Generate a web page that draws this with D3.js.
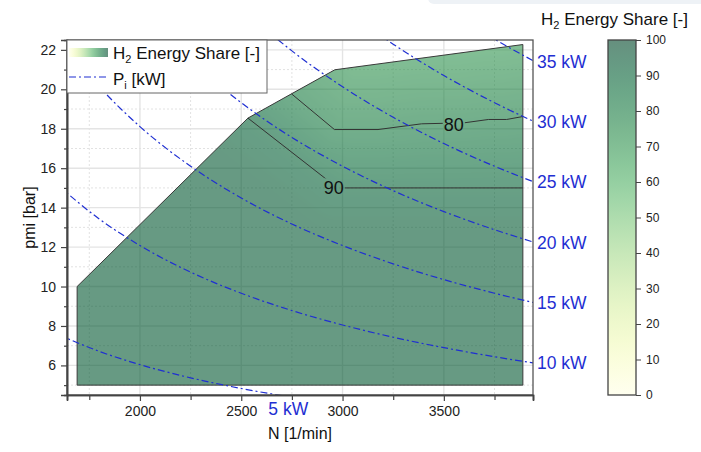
<!DOCTYPE html>
<html>
<head>
<meta charset="utf-8">
<script src="https://cdn.jsdelivr.net/npm/d3@7"></script>
<style>
  html, body { margin: 0; padding: 0; background: #fff; }
  svg { display: block; font-family: "Liberation Sans", Arial, sans-serif; }
</style>
</head>
<body>
<svg id="chart" width="701" height="452"></svg>
<script>
// ---------------- data ----------------
// operating-range envelope (N [1/min], pmi [bar])
const envelopeN   = [1690, 1690, 2533, 2748, 2962, 3890, 3890];
const envelopePmi = [5.0, 10.0, 18.54, 19.77, 20.99, 22.27, 5.0];

// iso-lines of H2 energy share
const contour90N   = [2533, 2975, 3890];
const contour90Pmi = [18.54, 15.0, 15.0];
const contour80N   = [2748, 2960, 3175, 3390, 3600, 3720, 3810, 3890];
const contour80Pmi = [19.77, 17.96, 17.96, 18.25, 18.30, 18.47, 18.47, 18.62];
const contourLabelText = ["90", "80"];
const contourLabelN    = [2957, 3549];
const contourLabelPmi  = [14.98, 18.2];

// indicated-power lines Pi [kW]
const piPowers = [5, 10, 15, 20, 25, 30, 35];
const piN = [1600, 1800, 2000, 2250, 2500, 2750, 3000, 3250, 3500, 3750, 3950];
const piPmi5  = [7.55, 6.71, 6.04, 5.37, 4.83, 4.39, 4.03, 3.72, 3.45, 3.22, 3.06];
const piPmi10 = [15.09, 13.42, 12.08, 10.73, 9.66, 8.78, 8.05, 7.43, 6.90, 6.44, 6.11];
const piPmi15 = [22.64, 20.13, 18.11, 16.10, 14.49, 13.17, 12.08, 11.15, 10.35, 9.66, 9.17];
const piPmi20 = [30.19, 26.83, 24.15, 21.47, 19.32, 17.56, 16.10, 14.86, 13.80, 12.88, 12.23];
const piPmi25 = [37.73, 33.54, 30.19, 26.83, 24.15, 21.95, 20.13, 18.58, 17.25, 16.10, 15.28];
const piPmi30 = [45.28, 40.25, 36.23, 32.20, 28.98, 26.35, 24.15, 22.29, 20.70, 19.32, 18.34];
const piPmi35 = [52.83, 46.96, 42.26, 37.57, 33.81, 30.74, 28.18, 26.01, 24.15, 22.54, 21.40];
const piSeries = [piPmi5, piPmi10, piPmi15, piPmi20, piPmi25, piPmi30, piPmi35];

// axis ticks
const xMajorTicks = [2000, 2500, 3000, 3500];
const xMinorTicks = [1750, 2250, 2750, 3250, 3750];
const yMajorTicks = [6, 8, 10, 12, 14, 16, 18, 20, 22];
const yMinorTicks = [5, 7, 9, 11, 13, 15, 17, 19, 21];
const cbTicks = [0, 10, 20, 30, 40, 50, 60, 70, 80, 90, 100];

// ---------------- layout ----------------
const svg = d3.select("#chart");
const L = 67, R = 533, T = 40, B = 395;
const x = d3.scaleLinear().domain([1640, 3940]).range([L, R]);
const y = d3.scaleLinear().domain([4.5, 22.5]).range([B, T]);
const cScale = d3.scaleLinear().domain([0, 100]).range([0, 1]);
const colorOf = v => d3.interpolateYlGn(cScale(v));
const FILL_ALPHA = 0.6;
const blue = "#1f2fd2";
const defs = svg.append("defs");

// screenshot decoration top right
svg.append("rect").attr("x", 428).attr("y", -12).attr("width", 290).attr("height", 16)
  .attr("rx", 6).attr("fill", "#eef2f6");

// clip to plot area
defs.append("clipPath").attr("id", "plotClip").append("rect")
  .attr("x", L).attr("y", T).attr("width", R - L).attr("height", B - T);

// ---------------- grid ----------------
const grid = svg.append("g");
grid.selectAll(".gxM").data(xMajorTicks).join("line")
  .attr("x1", d => x(d)).attr("x2", d => x(d)).attr("y1", T).attr("y2", B)
  .attr("stroke", "#e4e4e4").attr("stroke-width", 1.4);
grid.selectAll(".gxm").data(xMinorTicks).join("line")
  .attr("x1", d => x(d)).attr("x2", d => x(d)).attr("y1", T).attr("y2", B)
  .attr("stroke", "#e2e2e2").attr("stroke-width", 1).attr("stroke-dasharray", "2,2");
grid.selectAll(".gyM").data(yMajorTicks).join("line")
  .attr("y1", d => y(d)).attr("y2", d => y(d)).attr("x1", L).attr("x2", R)
  .attr("stroke", "#e4e4e4").attr("stroke-width", 1.4);
grid.selectAll(".gym").data(yMinorTicks).join("line")
  .attr("y1", d => y(d)).attr("y2", d => y(d)).attr("x1", L).attr("x2", R)
  .attr("stroke", "#e2e2e2").attr("stroke-width", 1).attr("stroke-dasharray", "2,2");

// ---------------- filled field ----------------
const envPts = envelopeN.map((n, i) => [x(n), y(envelopePmi[i])]);
const c90 = contour90N.map((n, i) => [x(n), y(contour90Pmi[i])]);
const c80 = contour80N.map((n, i) => [x(n), y(contour80Pmi[i])]);
// regions (pixel space) where the share is below 90 / below 80
const top90 = [[x(3890), y(22.27)], [x(2962), y(20.99)], [x(2748), y(19.77)]];
const poly90 = c90.concat(top90);
const poly80 = c80.concat([[x(3890), y(22.27)], [x(2962), y(20.99)]]);

function segDist(px, py, a, b) {
  const dx = b[0] - a[0], dy = b[1] - a[1];
  let t = ((px - a[0]) * dx + (py - a[1]) * dy) / (dx * dx + dy * dy);
  t = Math.max(0, Math.min(1, t));
  return Math.hypot(a[0] + t * dx - px, a[1] + t * dy - py);
}
function lineDist(px, py, pts) {
  let m = Infinity;
  for (let i = 0; i < pts.length - 1; i++) m = Math.min(m, segDist(px, py, pts[i], pts[i + 1]));
  return m;
}
const lut = d3.range(0, 1001).map(i => d3.rgb(colorOf(i / 10)));
const W = R - L, H = B - T;
const canvas = document.createElement("canvas");
canvas.width = W; canvas.height = H;
const ctx = canvas.getContext("2d");
const img = ctx.createImageData(W, H);
for (let j = 0; j < H; j++) {
  for (let i = 0; i < W; i++) {
    const px = L + i + 0.5, py = T + j + 0.5;
    let v;
    const d90 = lineDist(px, py, c90);
    if (d3.polygonContains(poly80, [px, py])) {
      const d80 = lineDist(px, py, c80);
      v = Math.max(60, 80 - 0.14 * d80);
    } else if (d3.polygonContains(poly90, [px, py])) {
      const d80 = lineDist(px, py, c80);
      v = 90 - 10 * d90 / (d90 + d80);
    } else {
      v = Math.min(94, 90 + 0.08 * d90);
    }
    const c = lut[Math.round(v * 10)];
    const k = (j * W + i) * 4;
    img.data[k] = c.r; img.data[k + 1] = c.g; img.data[k + 2] = c.b;
    img.data[k + 3] = Math.round(255 * FILL_ALPHA);
  }
}
ctx.putImageData(img, 0, 0);
defs.append("clipPath").attr("id", "envClip").append("path")
  .attr("d", d3.line()(envPts) + "Z");
svg.append("image").attr("href", canvas.toDataURL())
  .attr("x", L).attr("y", T).attr("width", W).attr("height", H)
  .attr("clip-path", "url(#envClip)");
svg.append("path").attr("d", d3.line()(envPts) + "Z")
  .attr("fill", "none").attr("stroke", "#3a3a3a").attr("stroke-width", 1);

// ---------------- contour lines with labels ----------------
const labG = svg.append("g");
const labels = contourLabelText.map((t, i) =>
  labG.append("text").attr("x", x(contourLabelN[i])).attr("y", y(contourLabelPmi[i]))
    .attr("text-anchor", "middle").attr("dominant-baseline", "central")
    .attr("font-size", 18).attr("fill", "#111").text(t));
const mask = defs.append("mask").attr("id", "labMask").attr("maskUnits", "userSpaceOnUse")
  .attr("x", 0).attr("y", 0).attr("width", 701).attr("height", 452);
mask.append("rect").attr("x", 0).attr("y", 0).attr("width", 701).attr("height", 452).attr("fill", "#fff");
labels.forEach(t => {
  const bb = t.node().getBBox();
  mask.append("rect").attr("x", bb.x - 1).attr("y", bb.y).attr("width", bb.width + 2)
    .attr("height", bb.height).attr("fill", "#000");
});
const cg = svg.insert("g", () => labG.node()).attr("mask", "url(#labMask)");
[c90, c80].forEach(pts => cg.append("path").attr("d", d3.line()(pts))
  .attr("fill", "none").attr("stroke", "#333").attr("stroke-width", 1));

// ---------------- Pi lines ----------------
const piG = svg.append("g").attr("clip-path", "url(#plotClip)");
const piLine = d3.line().curve(d3.curveMonotoneX).x(d => x(d[0])).y(d => y(d[1]));
piSeries.forEach(s => {
  piG.append("path").attr("d", piLine(piN.map((n, i) => [n, s[i]])))
    .attr("fill", "none").attr("stroke", blue).attr("stroke-width", 1.2)
    .attr("stroke-dasharray", "7,3,2,3");
});
const ymin = y.domain()[0];
piSeries.forEach((s, k) => {
  const last = s[s.length - 1];
  if (last >= ymin) {
    svg.append("text").attr("x", R + 4).attr("y", y(last))
      .attr("dominant-baseline", "central").attr("font-size", 17.5).attr("fill", blue)
      .text(piPowers[k] + " kW");
  } else {
    let nx = piN[0];
    for (let i = 0; i < s.length - 1; i++) {
      if (s[i] >= ymin && s[i + 1] < ymin) {
        nx = piN[i] + (s[i] - ymin) / (s[i] - s[i + 1]) * (piN[i + 1] - piN[i]);
      }
    }
    svg.append("text").attr("x", x(nx) + 9).attr("y", B + 20)
      .attr("text-anchor", "middle").attr("font-size", 17.5).attr("fill", blue)
      .text(piPowers[k] + " kW");
  }
});

// ---------------- axes & frame ----------------
svg.append("rect").attr("x", L).attr("y", T).attr("width", R - L).attr("height", B - T)
  .attr("fill", "none").attr("stroke", "#555").attr("stroke-width", 1.3);
const xAx = svg.append("g").attr("transform", `translate(0,${B})`)
  .call(d3.axisBottom(x).tickValues(xMajorTicks).tickSize(6).tickPadding(5).tickFormat(d3.format("d")));
const xAxm = svg.append("g").attr("transform", `translate(0,${B})`)
  .call(d3.axisBottom(x).tickValues(xMinorTicks).tickSize(5).tickFormat(""));
const yAx = svg.append("g").attr("transform", `translate(${L},0)`)
  .call(d3.axisLeft(y).tickValues(yMajorTicks).tickSize(6).tickPadding(5).tickFormat(d3.format("d")));
const yAxm = svg.append("g").attr("transform", `translate(${L},0)`)
  .call(d3.axisLeft(y).tickValues(yMinorTicks).tickSize(3).tickFormat(""));
[xAx, xAxm, yAx, yAxm].forEach(g => {
  g.select(".domain").attr("stroke", "#444").attr("stroke-width", 1.6);
  g.selectAll(".tick line").attr("stroke", "#444").attr("stroke-width", 1.2);
  g.selectAll(".tick text").attr("font-size", 14).attr("fill", "#222")
    .attr("font-family", "Liberation Sans, Arial, sans-serif");
});
svg.append("text").attr("x", (L + R) / 2).attr("y", 439).attr("text-anchor", "middle")
  .attr("font-size", 16).attr("fill", "#111").text("N [1/min]");
svg.append("text").attr("transform", `translate(29,${(T + B) / 2}) rotate(-90)`)
  .attr("text-anchor", "middle").attr("dominant-baseline", "central")
  .attr("font-size", 16).attr("fill", "#111").text("pmi [bar]");

// ---------------- legend ----------------
const lgGrad = defs.append("linearGradient").attr("id", "lgGrad");
d3.range(0, 11).forEach(i => lgGrad.append("stop").attr("offset", i / 10)
  .attr("stop-color", colorOf(i * 10)).attr("stop-opacity", FILL_ALPHA));
svg.append("rect").attr("x", L).attr("y", T).attr("width", 200).attr("height", 53)
  .attr("fill", "#fff").attr("stroke", "#666").attr("stroke-width", 1);
svg.append("rect").attr("x", 69).attr("y", 48).attr("width", 39).attr("height", 9)
  .attr("fill", "url(#lgGrad)");
const t1 = svg.append("text").attr("x", 113).attr("y", 59).attr("font-size", 17).attr("fill", "#111");
t1.append("tspan").text("H");
t1.append("tspan").attr("font-size", 11).attr("dy", 4).text("2");
t1.append("tspan").attr("dy", -4).text(" Energy Share [-]");
svg.append("line").attr("x1", 69).attr("x2", 106).attr("y1", 77).attr("y2", 77)
  .attr("stroke", blue).attr("stroke-width", 1.2).attr("stroke-dasharray", "7,3,2,3");
const t2 = svg.append("text").attr("x", 113).attr("y", 85).attr("font-size", 17).attr("fill", "#111");
t2.append("tspan").text("P");
t2.append("tspan").attr("font-size", 11).attr("dy", 4).text("i");
t2.append("tspan").attr("dy", -4).text(" [kW]");

// ---------------- colorbar ----------------
const cbX = 608, cbW = 28;
const cbY = d3.scaleLinear().domain([0, 100]).range([B, T]);
const cbGrad = defs.append("linearGradient").attr("id", "cbGrad")
  .attr("x1", 0).attr("y1", 1).attr("x2", 0).attr("y2", 0);
d3.range(0, 21).forEach(i => cbGrad.append("stop").attr("offset", i / 20)
  .attr("stop-color", colorOf(i * 5)).attr("stop-opacity", FILL_ALPHA));
svg.append("rect").attr("x", cbX).attr("y", T).attr("width", cbW).attr("height", B - T)
  .attr("fill", "url(#cbGrad)").attr("stroke", "#444").attr("stroke-width", 1.3);
const cbAx = svg.append("g").attr("transform", `translate(${cbX + cbW},0)`)
  .call(d3.axisRight(cbY).tickValues(cbTicks).tickSize(5).tickPadding(5));
cbAx.select(".domain").remove();
cbAx.selectAll(".tick line").attr("stroke", "#444");
cbAx.selectAll(".tick text").attr("font-size", 12).attr("fill", "#222")
  .attr("font-family", "Liberation Sans, Arial, sans-serif");
const t3 = svg.append("text").attr("x", 541).attr("y", 25).attr("font-size", 17).attr("fill", "#111");
t3.append("tspan").text("H");
t3.append("tspan").attr("font-size", 11).attr("dy", 4).text("2");
t3.append("tspan").attr("dy", -4).text(" Energy Share [-]");
</script>
</body>
</html>
